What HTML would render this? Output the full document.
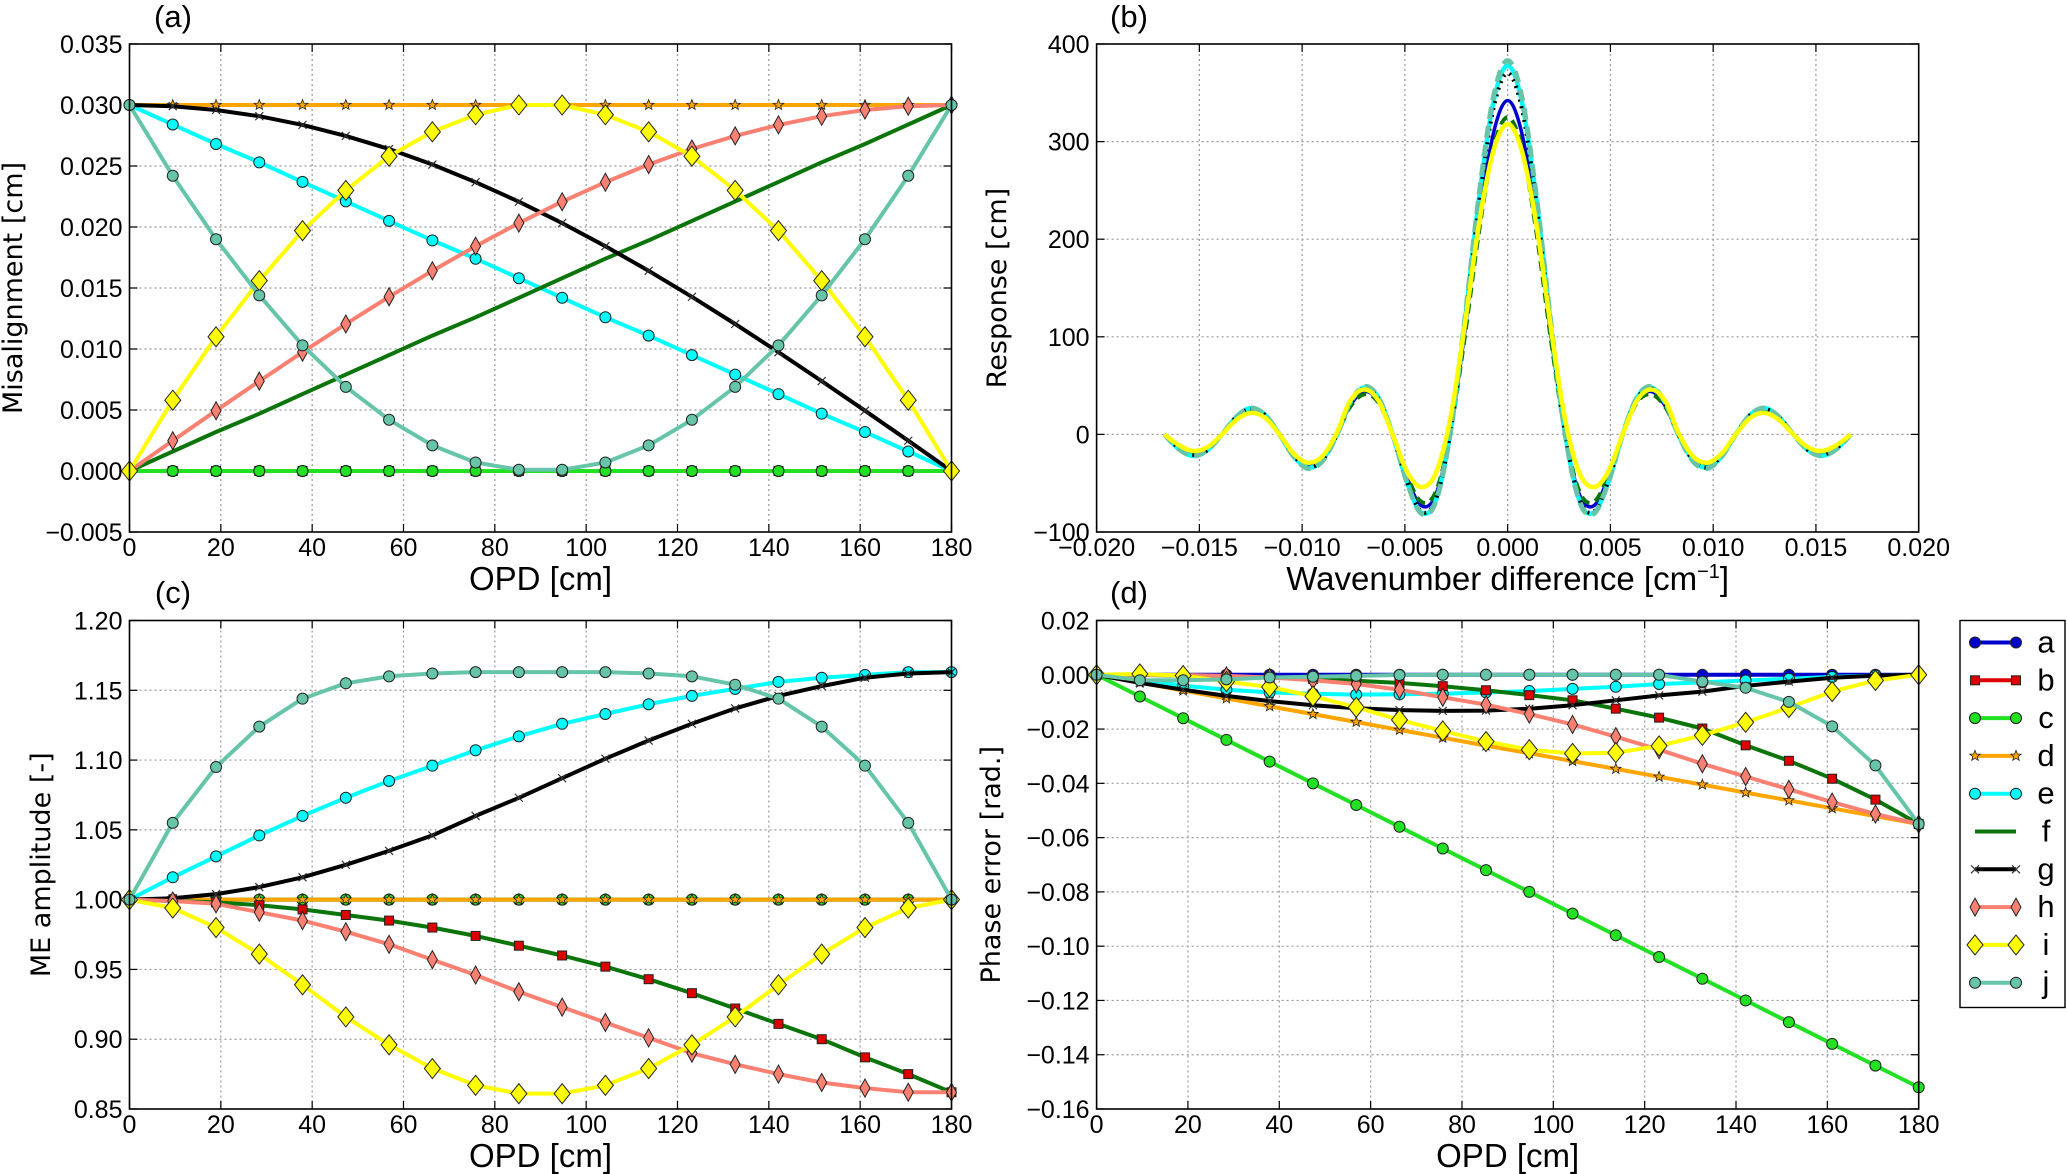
<!DOCTYPE html>
<html><head><meta charset="utf-8">
<style>
html,body{margin:0;padding:0;background:#fff;}
svg{display:block;}
.tk{font-family:"Liberation Sans Narrow","Liberation Sans",sans-serif;font-size:25px;fill:#000;}
.xt{font-family:"Liberation Sans Narrow","Liberation Sans",sans-serif;font-size:33px;fill:#000;}
.yt{font-family:"DejaVu Sans","Liberation Sans",sans-serif;font-size:27px;fill:#000;}
.pl{font-family:"Liberation Sans Narrow","Liberation Sans",sans-serif;font-size:31px;fill:#000;}
</style></head>
<body>
<svg id="fig" width="2067" height="1174" viewBox="0 0 2067 1174" xmlns="http://www.w3.org/2000/svg"></svg>
<script>
// ---- shared OPD sample positions ----
const opd = [0,9.47,18.95,28.42,37.89,47.37,56.84,66.32,75.79,85.26,94.74,104.21,113.68,123.16,132.63,142.11,151.58,161.05,170.53,180];
// ---- panel (a) misalignment [cm] ----
const misA = [0,0,0,0,0,0,0,0,0,0,0,0,0,0,0,0,0,0,0,0];
const misB = [0,0,0,0,0,0,0,0,0,0,0,0,0,0,0,0,0,0,0,0];
const misC = [0,0,0,0,0,0,0,0,0,0,0,0,0,0,0,0,0,0,0,0];
const misD = [0.03,0.03,0.03,0.03,0.03,0.03,0.03,0.03,0.03,0.03,0.03,0.03,0.03,0.03,0.03,0.03,0.03,0.03,0.03,0.03];
const misE = [0.0300,0.0284,0.0268,0.0253,0.0237,0.0221,0.0205,0.0189,0.0174,0.0158,0.0142,0.0126,0.0111,0.0095,0.0079,0.0063,0.0047,0.0032,0.0016,0];
const misF = [0,0.0016,0.0032,0.0047,0.0063,0.0079,0.0095,0.0111,0.0126,0.0142,0.0158,0.0174,0.0189,0.0205,0.0221,0.0237,0.0253,0.0268,0.0284,0.0300];
const misG = [0.0300,0.0299,0.02959,0.02908,0.02837,0.02747,0.02639,0.02512,0.02367,0.02207,0.02032,0.01843,0.01641,0.01428,0.01205,0.00974,0.00737,0.00494,0.00248,0];
const misH = [0,0.00248,0.00494,0.00737,0.00974,0.01205,0.01428,0.01641,0.01843,0.02032,0.02207,0.02367,0.02512,0.02639,0.02747,0.02837,0.02908,0.02959,0.0299,0.0300];
const misI = [0,0.0058,0.0110,0.0156,0.0197,0.0230,0.0258,0.0278,0.0292,0.0300,0.0300,0.0292,0.0278,0.0258,0.0230,0.0197,0.0156,0.0110,0.0058,0];
const misJ = [0.0300,0.0242,0.0190,0.0144,0.0103,0.0069,0.0042,0.0021,0.0007,0.0001,0.0001,0.0007,0.0021,0.0042,0.0069,0.0103,0.0144,0.0190,0.0242,0.0300];
// ---- panel (b) response [cm] ----
const sigma = [-0.0167,-0.0160,-0.0153,-0.0146,-0.0139,-0.0132,-0.0125,-0.0118,-0.0111,-0.0104,-0.0097,-0.0090,-0.0083,-0.0077,-0.0070,-0.0063,-0.0056,-0.0049,-0.0042,-0.0035,-0.0028,-0.0021,-0.0014,-0.0007,0,0.0007,0.0014,0.0021,0.0028,0.0035,0.0042,0.0049,0.0056,0.0063,0.0070,0.0077,0.0083,0.0090,0.0097,0.0104,0.0111,0.0118,0.0125,0.0132,0.0139,0.0146,0.0153,0.0160,0.0167];
const respF = [0,-13,-19,-14,0,15,23,17,0,-20,-30,-23,0,27,41,33,0,-42,-69,-59,0,98,207,293,325,293,207,98,0,-59,-69,-42,0,33,41,27,0,-23,-30,-20,0,17,23,15,0,-14,-19,-13,0];
const respA = [0,-13,-20,-15,0,16,24,18,0,-21,-31,-24,0,28,44,34,0,-44,-73,-62,0,103,218,308,342,308,218,103,0,-62,-73,-44,0,34,44,28,0,-24,-31,-21,0,18,24,16,0,-15,-20,-13,0];
const respG = [0,-14,-21,-16,0,18,26,20,0,-22,-34,-26,0,30,47,37,0,-48,-79,-67,0,111,236,333,370,333,236,111,0,-67,-79,-48,0,37,47,30,0,-26,-34,-22,0,20,26,18,0,-16,-21,-14,0];
const respE = [0,-15,-22,-16,0,18,27,20,0,-23,-34,-26,0,31,48,38,0,-49,-80,-68,0,113,241,340,378,340,241,113,0,-68,-80,-49,0,38,48,31,0,-26,-34,-23,0,20,27,18,0,-16,-22,-15,0];
const respJ = [0,-15,-22,-16,0,18,27,20,0,-23,-35,-27,0,31,49,38,0,-49,-81,-69,0,115,244,345,383,345,244,115,0,-69,-81,-49,0,38,49,31,0,-27,-35,-23,0,20,27,18,0,-16,-22,-15,0];
const respI = [0,-11,-17,-13,0,15,22,17,0,-20,-29,-22,2,33,46,35,0,-38,-54,-40,15,110,215,290,318,290,215,110,15,-40,-54,-38,0,35,46,33,2,-22,-29,-20,0,17,22,15,0,-13,-17,-11,0];
// ---- panel (c) ME amplitude [-] ----
const ampA = [1,1,1,1,1,1,1,1,1,1,1,1,1,1,1,1,1,1,1,1];
const ampC = [1,1,1,1,1,1,1,1,1,1,1,1,1,1,1,1,1,1,1,1];
const ampD = [1,1,1,1,1,1,1,1,1,1,1,1,1,1,1,1,1,1,1,1];
const ampE = [1,1.016,1.031,1.046,1.060,1.073,1.085,1.096,1.107,1.117,1.126,1.133,1.140,1.146,1.151,1.156,1.159,1.161,1.163,1.163];
const ampF = [1,0.999,0.998,0.996,0.993,0.989,0.985,0.980,0.974,0.967,0.960,0.952,0.943,0.933,0.922,0.911,0.900,0.887,0.875,0.862];
const ampB = [1,0.999,0.998,0.996,0.993,0.989,0.985,0.980,0.974,0.967,0.960,0.952,0.943,0.933,0.922,0.911,0.900,0.887,0.875,0.862];
const ampG = [1,1.001,1.004,1.009,1.016,1.025,1.035,1.046,1.060,1.073,1.087,1.101,1.114,1.126,1.137,1.146,1.153,1.159,1.162,1.163];
const ampH = [1,0.999,0.997,0.991,0.985,0.977,0.968,0.957,0.946,0.934,0.923,0.912,0.901,0.890,0.882,0.875,0.869,0.865,0.862,0.862];
const ampI = [1,0.994,0.980,0.961,0.939,0.916,0.896,0.879,0.867,0.861,0.861,0.867,0.879,0.896,0.916,0.939,0.961,0.980,0.994,1];
const ampJ = [1,1.055,1.095,1.124,1.144,1.155,1.160,1.162,1.163,1.163,1.163,1.163,1.162,1.160,1.154,1.144,1.124,1.096,1.055,1];
// ---- panel (d) phase error [rad.] ----
const phA = [0,0,0,0,0,0,0,0,0,0,0,0,0,0,0,0,0,0,0,0];
const phC = [0,-0.008,-0.016,-0.024,-0.032,-0.040,-0.048,-0.056,-0.064,-0.072,-0.080,-0.088,-0.096,-0.104,-0.112,-0.120,-0.128,-0.136,-0.144,-0.152];
const phD = [0,-0.0029,-0.0058,-0.0087,-0.0116,-0.0145,-0.0174,-0.0203,-0.0232,-0.0261,-0.0289,-0.0318,-0.0347,-0.0376,-0.0405,-0.0434,-0.0463,-0.0492,-0.0521,-0.055];
const phE = [0,-0.002,-0.004,-0.0055,-0.0065,-0.007,-0.0073,-0.0072,-0.007,-0.0065,-0.006,-0.0052,-0.0044,-0.0034,-0.0028,-0.0021,-0.0015,-0.0008,-0.0003,0];
const phF = [0,-0.0001,-0.0003,-0.0006,-0.001,-0.0015,-0.0022,-0.003,-0.0042,-0.0057,-0.0075,-0.0094,-0.0125,-0.0158,-0.0198,-0.026,-0.0317,-0.0383,-0.046,-0.055];
const phB = [0,-0.0001,-0.0003,-0.0006,-0.001,-0.0015,-0.0022,-0.003,-0.0042,-0.0057,-0.0075,-0.0094,-0.0125,-0.0158,-0.0198,-0.026,-0.0317,-0.0383,-0.046,-0.055];
const phG = [0,-0.003,-0.0055,-0.0078,-0.0097,-0.0112,-0.0123,-0.013,-0.0133,-0.0132,-0.0125,-0.0112,-0.0094,-0.0076,-0.0062,-0.0041,-0.0025,-0.0011,-0.0003,0];
const phH = [0,0,-0.0001,-0.0004,-0.001,-0.002,-0.0034,-0.0055,-0.0083,-0.011,-0.0145,-0.0183,-0.0228,-0.0276,-0.0328,-0.0375,-0.0422,-0.0469,-0.0513,-0.055];
const phI = [0,0.0003,-0.0003,-0.0025,-0.0045,-0.0079,-0.012,-0.0166,-0.0207,-0.0246,-0.0276,-0.029,-0.0287,-0.0262,-0.0223,-0.0175,-0.0121,-0.0062,-0.0021,0];
const phJ = [0,-0.002,-0.002,-0.0017,-0.001,-0.0007,-0.0004,-0.0001,0,0,0,0,0,0,-0.0025,-0.0048,-0.0100,-0.0190,-0.0334,-0.055];
const legendLabels = ['a','b','c','d','e','f','g','h','i','j'];

const NS='http://www.w3.org/2000/svg';
const fig=document.getElementById('fig');
function mk(tag,attrs,parent){const e=document.createElementNS(NS,tag);for(const k in attrs)e.setAttribute(k,attrs[k]);(parent||fig).appendChild(e);return e;}
function lin(p0,p1,d0,d1){return v=>p0+(v-d0)/(d1-d0)*(p1-p0);}
const ST={
 a:{c:'#0000cc',m:'o'}, b:{c:'#dd0000',m:'s'}, c:{c:'#22e022',m:'o'}, d:{c:'#ffa500',m:'*'},
 e:{c:'#00ffff',m:'o'}, f:{c:'#0b740b',m:''}, g:{c:'#000000',m:'x'}, h:{c:'#fa8072',m:'d'},
 i:{c:'#ffff00',m:'D'}, j:{c:'#66c5a8',m:'o'}
};
function marker(g,type,x,y,fill){
 let e;
 if(type==='o'){e=mk('circle',{cx:x,cy:y,r:5.5,fill:fill,stroke:'#222','stroke-width':1},g);}
 else if(type==='s'){e=mk('rect',{x:x-4.5,y:y-4.5,width:9,height:9,fill:fill,stroke:'#222','stroke-width':1},g);}
 else if(type==='D'){e=mk('polygon',{points:`${x},${y-10} ${x+8},${y} ${x},${y+10} ${x-8},${y}`,fill:fill,stroke:'#222','stroke-width':1},g);}
 else if(type==='d'){e=mk('polygon',{points:`${x},${y-9} ${x+5},${y} ${x},${y+9} ${x-5},${y}`,fill:fill,stroke:'#222','stroke-width':1},g);}
 else if(type==='*'){let p=[];for(let k=0;k<10;k++){const r=k%2?2.3:5.5,a=-Math.PI/2+k*Math.PI/5;p.push((x+r*Math.cos(a)).toFixed(1)+','+(y+r*Math.sin(a)).toFixed(1));}e=mk('polygon',{points:p.join(' '),fill:fill,stroke:'#222','stroke-width':0.8},g);}
 else if(type==='x'){e=mk('path',{d:`M${x-4},${y-4}L${x+4},${y+4}M${x-4},${y+4}L${x+4},${y-4}`,stroke:'#333','stroke-width':1.2,fill:'none'},g);}
 if(e){
 }
}
function axes(name,L,R,T,B,xt,xl,yt,yl,sx,sy,title,xtitle,ytitle,ytx,labelPos){
 const g=mk('g',{});
 
 
 xt.forEach((v,i)=>{const x=sx(v);
  if(x>L+1&&x<R-1)mk('line',{x1:x,y1:T,x2:x,y2:B,stroke:'#999','stroke-width':1.2,'stroke-dasharray':'2,3'},g);
  mk('line',{x1:x,y1:B,x2:x,y2:B-8,stroke:'#000','stroke-width':1.2},g);
  mk('line',{x1:x,y1:T,x2:x,y2:T+8,stroke:'#000','stroke-width':1.2},g);
  const t=mk('text',{x:x,y:B+24,'text-anchor':'middle',class:'tk'},g);t.textContent=xl[i];
  
  
 });
 yt.forEach((v,i)=>{const y=sy(v);
  if(y>T+1&&y<B-1)mk('line',{x1:L,y1:y,x2:R,y2:y,stroke:'#999','stroke-width':1.2,'stroke-dasharray':'2,3'},g);
  mk('line',{x1:L,y1:y,x2:L+8,y2:y,stroke:'#000','stroke-width':1.2},g);
  mk('line',{x1:R,y1:y,x2:R-8,y2:y,stroke:'#000','stroke-width':1.2},g);
  const t=mk('text',{x:L-7,y:y+9,'text-anchor':'end',class:'tk'},g);t.textContent=yl[i];
  
  
 });
 const pt=mk('text',{x:labelPos[0],y:labelPos[1],'text-anchor':'middle',class:'pl'},g);pt.textContent=title;
 
 
 const xa=mk('text',{x:(L+R)/2,y:B+58,'text-anchor':'middle',class:'xt'},g);xa.innerHTML=xtitle;
 
 
 const ya=mk('text',{x:ytx,y:(T+B)/2,'text-anchor':'middle',class:'yt',transform:`rotate(-90 ${ytx} ${(T+B)/2})`},g);ya.textContent=ytitle;
 
 
 return g;
}
function frame(g,L,R,T,B){const f=mk('rect',{x:L,y:T,width:R-L,height:B-T,fill:'none',stroke:'#000','stroke-width':1.6},g);
 
 }
function series(g,key,xs,ys,sx,sy,markersOnly){
 const s=ST[key];
 const sg=mk('g',{},g);
 
 
 const pts=xs.map((x,i)=>sx(x).toFixed(1)+','+sy(ys[i]).toFixed(1)).join(' ');
 if(!markersOnly)mk('polyline',{points:pts,fill:'none',stroke:s.c,'stroke-width':4,'stroke-linejoin':'round'},sg);
 xs.forEach((x,i)=>marker(sg,s.m,sx(x),sy(ys[i]),s.c));
}
function curve(g,key,xs,ys,sx,sy,w,dash){
 const s=ST[key];
 const P=xs.map((x,i)=>[sx(x),sy(ys[i])]);
 let d='M'+P[0][0].toFixed(1)+','+P[0][1].toFixed(1);
 for(let i=0;i<P.length-1;i++){
  const p0=P[Math.max(0,i-1)],p1=P[i],p2=P[i+1],p3=P[Math.min(P.length-1,i+2)];
  const c1=[p1[0]+(p2[0]-p0[0])/6,p1[1]+(p2[1]-p0[1])/6],c2=[p2[0]-(p3[0]-p1[0])/6,p2[1]-(p3[1]-p1[1])/6];
  d+=`C${c1[0].toFixed(1)},${c1[1].toFixed(1)} ${c2[0].toFixed(1)},${c2[1].toFixed(1)} ${p2[0].toFixed(1)},${p2[1].toFixed(1)}`;
 }
 const e=mk('path',{d:d,fill:'none',stroke:s.c,'stroke-width':w,'stroke-dasharray':dash||'none'},g);
 
 
}
const opdTicks=[0,20,40,60,80,100,120,140,160,180];
const opdLabels=['0','20','40','60','80','100','120','140','160','180'];

// Panel (a)
{const L=129.5,R=951.5,T=44,B=532;
 const sx=lin(L,R,0,180),sy=lin(B,T,-0.005,0.035);
 const yt=[-0.005,0,0.005,0.01,0.015,0.02,0.025,0.03,0.035];
 const yl=['−0.005','0.000','0.005','0.010','0.015','0.020','0.025','0.030','0.035'];
 const g=axes('panel-a',L,R,T,B,opdTicks,opdLabels,yt,yl,sx,sy,'(a)','OPD [cm]','Misalignment [cm]',22,[173,27]);
 const data={a:misA,b:misB,c:misC,d:misD,e:misE,f:misF,g:misG,h:misH,i:misI,j:misJ};
 for(const k in data)series(g,k,opd,data[k],sx,sy);
 frame(g,L,R,T,B);}

// Panel (b)
{const L=1096.6,R=1918.7,T=44,B=532;
 const sx=lin(L,R,-0.02,0.02),sy=lin(B,T,-100,400);
 const xt=[-0.02,-0.015,-0.01,-0.005,0,0.005,0.01,0.015,0.02];
 const xl=['−0.020','−0.015','−0.010','−0.005','0.000','0.005','0.010','0.015','0.020'];
 const yt=[-100,0,100,200,300,400],yl=['−100','0','100','200','300','400'];
 const g=axes('panel-b',L,R,T,B,xt,xl,yt,yl,sx,sy,'(b)','Wavenumber difference [cm<tspan dy="-12" font-size="20">−1</tspan><tspan dy="12">]</tspan>','Response [cm]',1006,[1129,27]);
 curve(g,'a',sigma,respA,sx,sy,3.5,'none');
 curve(g,'f',sigma,respF,sx,sy,4,'10,6');
 curve(g,'e',sigma,respE,sx,sy,4.5,'none');
 curve(g,'g',sigma,respG,sx,sy,4,'2,5');
 curve(g,'j',sigma,respJ,sx,sy,5,'12,7');
 curve(g,'i',sigma,respI,sx,sy,4.5,'none');
 frame(g,L,R,T,B);}

// Panel (c)
{const L=129.5,R=951.5,T=620.5,B=1109;
 const sx=lin(L,R,0,180),sy=lin(B,T,0.85,1.2);
 const yt=[0.85,0.9,0.95,1.0,1.05,1.1,1.15,1.2],yl=['0.85','0.90','0.95','1.00','1.05','1.10','1.15','1.20'];
 const g=axes('panel-c',L,R,T,B,opdTicks,opdLabels,yt,yl,sx,sy,'(c)','OPD [cm]','ME amplitude [-]',50,[173,603]);
 const data={a:ampA,c:ampC,d:ampD,e:ampE,f:ampF,g:ampG,h:ampH,i:ampI,j:ampJ};
 for(const k in data){series(g,k,opd,data[k],sx,sy);if(k==='f')series(g,'b',opd,ampB,sx,sy,true);}
 frame(g,L,R,T,B);}

// Panel (d)
{const L=1096.6,R=1918.7,T=620.5,B=1109;
 const sx=lin(L,R,0,180),sy=lin(B,T,-0.16,0.02);
 const yt=[-0.16,-0.14,-0.12,-0.1,-0.08,-0.06,-0.04,-0.02,0,0.02];
 const yl=['−0.16','−0.14','−0.12','−0.10','−0.08','−0.06','−0.04','−0.02','0.00','0.02'];
 const g=axes('panel-d',L,R,T,B,opdTicks,opdLabels,yt,yl,sx,sy,'(d)','OPD [cm]','Phase error [rad.]',1000,[1129,603]);
 const data={a:phA,c:phC,d:phD,e:phE,f:phF,g:phG,h:phH,i:phI,j:phJ};
 for(const k in data){series(g,k,opd,data[k],sx,sy);if(k==='f')series(g,'b',opd,phB,sx,sy,true);}
 frame(g,L,R,T,B);}

// Legend
{const lg=mk('g',{});
 
 
 mk('rect',{x:1960,y:620.5,width:105,height:387,fill:'#fff',stroke:'#000','stroke-width':1.4},lg);
 legendLabels.forEach((k,i)=>{
  const y=642.5+i*37.8,s=ST[k];
  const eg=mk('g',{},lg);
  
  
  mk('line',{x1:1975,y1:y,x2:2016,y2:y,stroke:s.c,'stroke-width':4},eg);
  marker(eg,s.m,1975,y,s.c);marker(eg,s.m,2016,y,s.c);
  const t=mk('text',{x:2046,y:y+10,'text-anchor':'middle',class:'pl'},eg);t.textContent=k;
 });}
</script>
</body></html>
